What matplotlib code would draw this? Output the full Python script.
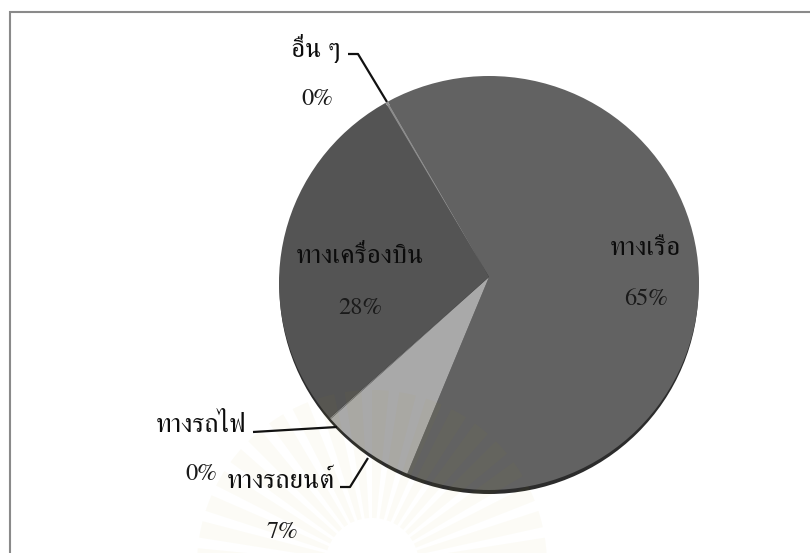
import numpy as np
import matplotlib
matplotlib.use('Agg')
import matplotlib.pyplot as plt
from matplotlib.patches import Ellipse, Wedge
from matplotlib.path import Path
from matplotlib.transforms import Affine2D

labels = ['ทางเรือ', 'ทางรถยนต์', 'ทางรถไฟ', 'ทางเครื่องบิน', 'อื่น ๆ']
values = [64.6, 7.1, 0.1, 28.0, 0.2]
pct_labels = ['65%', '7%', '0%', '28%', '0%']
colors = ['#626262', '#a9a9a9', '#8a8a8a', '#545454', '#8c8c8c']

plt.rcParams['font.family'] = ['FreeSerif', 'DejaVu Serif']
W, H = 810, 553
fig = plt.figure(figsize=(W/100, H/100), dpi=100)
ax = fig.add_axes([0, 0, 1, 1])

# frame (open on the right and bottom)
ax.plot([10, 10, 810], [553, 12, 12], color='#8a8a8a', lw=1.5, zorder=2, solid_joinstyle='miter')

# shadow, then pie clipped to the tilted disc outline
ax.add_patch(Ellipse((489, 287), 419, 414, fc='#2c2c2c', ec='none', zorder=3))
wedges, _ = ax.pie(values, colors=colors, startangle=-120, counterclock=True,
                   center=(489, 277), radius=225, frame=False)
ax.set_xlim(0, W); ax.set_ylim(H, 0); ax.set_aspect('auto'); ax.axis('off')
disc_tr = Affine2D().scale(210, 207).translate(489, 283) + ax.transData
for w in wedges:
    w.set_zorder(4)
    w.set_clip_on(True)
    w.set_clip_path(Path.unit_circle(), disc_tr)

# faint watermark sunburst, laid over everything
wm_x, wm_y = 372, 565
for a in np.arange(180, 360, 9.0):
    ax.add_patch(Wedge((wm_x, wm_y), 175, a, a+5.5, width=128, fc='#b0a000', ec='none', alpha=0.035, zorder=5))

# leaders
for xs, ys in [([348, 358, 387], [54, 54, 102]),
               ([253, 337], [432, 427]),
               ([340, 350, 368], [487, 487, 458])]:
    ax.plot(xs, ys, color='#111111', lw=1.6, zorder=6, solid_capstyle='butt')

# labels: baselines as measured
pos = {0: (645, 255, 646, 305), 1: (281, 488, 282, 538), 2: (201, 432, 201, 480),
       3: (360, 263, 360, 314), 4: (316, 57, 317, 105)}
for i, (lx, ly, px, py) in pos.items():
    ax.text(lx, ly, labels[i], fontsize=19.5, ha='center', va='baseline', color='#0c0c0c', zorder=7)
    ax.text(px, py, pct_labels[i], fontsize=17.5, ha='center', va='baseline', color='#1a1a1a', zorder=7)

fig.savefig('out.png', dpi=100)
